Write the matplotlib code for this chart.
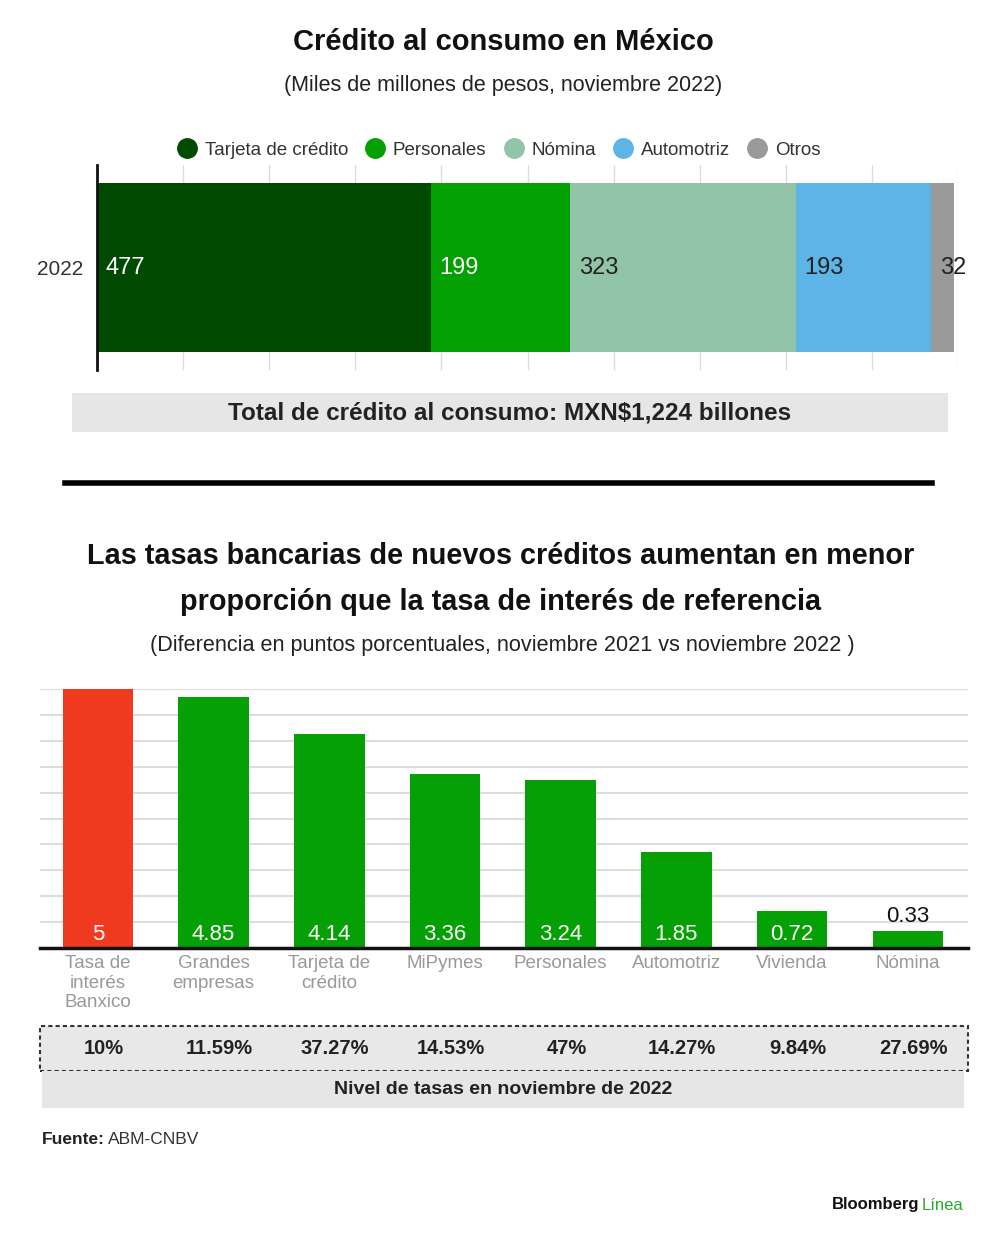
import matplotlib
matplotlib.use('Agg')
import matplotlib.pyplot as plt
from matplotlib.patches import Rectangle
from matplotlib.lines import Line2D
from matplotlib.transforms import blended_transform_factory
import numpy as np

plt.rcParams['font.family'] = ['Liberation Sans', 'DejaVu Sans']

# data: top stacked bar
consumo_labels = ['Tarjeta de crédito', 'Personales', 'Nómina', 'Automotriz', 'Otros']
consumo_values = [477, 199, 323, 193, 32]
consumo_colors = ['#014a01', '#02a002', '#92c5a7', '#5cb5e6', '#9a9a9a']
consumo_text_colors = ['white', 'white', '#222222', '#222222', '#222222']
year_label = '2022'

# data: bottom bar chart
tasas_cats = ['Tasa de\ninterés\nBanxico', 'Grandes\nempresas', 'Tarjeta de\ncrédito', 'MiPymes',
              'Personales', 'Automotriz', 'Vivienda', 'Nómina']
tasas_diff = [5, 4.85, 4.14, 3.36, 3.24, 1.85, 0.72, 0.33]
tasas_diff_labels = ['5', '4.85', '4.14', '3.36', '3.24', '1.85', '0.72', '0.33']
tasas_nivel = ['10%', '11.59%', '37.27%', '14.53%', '47%', '14.27%', '9.84%', '27.69%']
tasas_colors = ['#f03a1f'] + ['#05a005'] * 7

W, H = 1000, 1244


def fx(x):
    return x / W


def fy(y):
    return 1 - y / H


def px_rect(left, top, right, bottom):
    return [fx(left), fy(bottom), (right - left) / W, (bottom - top) / H]


fig = plt.figure(figsize=(W / 100, H / 100), dpi=100, facecolor='white')

# titles top
fig.text(0.503, fy(42), 'Crédito al consumo en México', ha='center', va='center',
         fontsize=21, fontweight='bold', color='#111111')
fig.text(0.503, fy(86), '(Miles de millones de pesos, noviembre 2022)', ha='center', va='center',
         fontsize=15.5, color='#222222')

# stacked bar
ax1 = fig.add_axes(px_rect(97, 165, 958, 370))
left = 0
for val, col, tcol in zip(consumo_values, consumo_colors, consumo_text_colors):
    ax1.barh(0, val, left=left, height=1.0, color=col, zorder=2)
    ax1.text(left + 12, 0, str(val), ha='left', va='center', fontsize=17, color=tcol, zorder=3)
    left += val
ax1.set_xlim(0, 1230)
ax1.set_ylim(-0.61, 0.61)
ax1.set_xticks(np.arange(0, 1231, 123))
ax1.grid(axis='x', color='#dddddd', lw=1, zorder=0)
ax1.tick_params(length=0, labelbottom=False)
ax1.set_yticks([0])
ax1.set_yticklabels([year_label], fontsize=15, color='#333333')
ax1.tick_params(axis='y', pad=10)
for s in ['top', 'right', 'bottom']:
    ax1.spines[s].set_visible(False)
ax1.spines['left'].set_linewidth(2)
ax1.spines['left'].set_color('#111111')

handles = [Line2D([], [], marker='o', ls='', markersize=14, markerfacecolor=c, markeredgecolor=c)
           for c in consumo_colors]
fig.legend(handles, consumo_labels, loc='center', bbox_to_anchor=(0.499, fy(150)), ncol=5,
           frameon=False, fontsize=13.5, handlelength=1.0, handletextpad=0.45,
           columnspacing=0.95, labelcolor='#333333')

# total box
fig.patches.append(Rectangle((fx(72), fy(432)), (948 - 72) / W, (432 - 393) / H,
                             transform=fig.transFigure, facecolor='#e6e6e6', edgecolor='none'))
fig.text(fx(510), fy(413), 'Total de crédito al consumo: MXN$1,224 billones', ha='center', va='center',
         fontsize=17.5, fontweight='bold', color='#222222')

# separator
fig.add_artist(Line2D([fx(65), fx(932)], [fy(483), fy(483)], color='black', lw=4,
                      transform=fig.transFigure))

# titles bottom
fig.text(0.501, fy(556), 'Las tasas bancarias de nuevos créditos aumentan en menor', ha='center',
         va='center', fontsize=20.8, fontweight='bold', color='#111111')
fig.text(0.501, fy(602), 'proporción que la tasa de interés de referencia', ha='center',
         va='center', fontsize=20.8, fontweight='bold', color='#111111')
fig.text(0.502, fy(646), '(Diferencia en puntos porcentuales, noviembre 2021 vs noviembre 2022 )',
         ha='center', va='center', fontsize=15.6, color='#222222')

# bar chart
ax2 = fig.add_axes(px_rect(40, 689, 968, 948))
x = np.arange(len(tasas_diff))
ax2.bar(x, tasas_diff, width=0.61, color=tasas_colors, zorder=2)
for i, (v, lab) in enumerate(zip(tasas_diff, tasas_diff_labels)):
    if v < 0.5:
        ax2.text(i, v + 0.08, lab, ha='center', va='bottom', fontsize=16, color='#111111', zorder=3)
    else:
        ax2.text(i, 0.06, lab, ha='center', va='bottom', fontsize=16, color='white', zorder=3)
ax2.set_xlim(-0.5, 7.52)
ax2.set_ylim(0, 5)
ax2.set_yticks(np.arange(0, 5.01, 0.5))
ax2.grid(axis='y', color='#dddddd', lw=1.5, zorder=0)
ax2.tick_params(length=0, labelleft=False)
ax2.set_xticks(x)
ax2.set_xticklabels(tasas_cats, fontsize=13.5, color='#999999', linespacing=1.2)
ax2.tick_params(axis='x', pad=5)
for s in ['top', 'right', 'left']:
    ax2.spines[s].set_visible(False)
ax2.spines['bottom'].set_linewidth(2.5)
ax2.spines['bottom'].set_color('#111111')
ax2.set_axisbelow(True)

# nivel de tasas box
fig.patches.append(Rectangle((fx(40), fy(1071)), (968 - 40) / W, (1071 - 1026) / H,
                             transform=fig.transFigure, facecolor='#e8e8e8', edgecolor='#333333',
                             lw=1.5, ls=(0, (2, 1.5))))
fig.patches.append(Rectangle((fx(42), fy(1108)), (964 - 42) / W, (1108 - 1071) / H,
                             transform=fig.transFigure, facecolor='#e6e6e6', edgecolor='none'))
trans = blended_transform_factory(ax2.transData, fig.transFigure)
for i, lab in enumerate(tasas_nivel):
    fig.text(i + 0.05, fy(1048), lab, transform=trans, ha='center', va='center', fontsize=14.5,
             fontweight='bold', color='#222222')
fig.text(fx(503), fy(1090), 'Nivel de tasas en noviembre de 2022', ha='center', va='center',
         fontsize=14, fontweight='bold', color='#222222')

# source and brand
t = fig.text(fx(42), fy(1140), 'Fuente:', ha='left', va='center', fontsize=12.5,
             fontweight='bold', color='#222222')
fig.canvas.draw()
bb = t.get_window_extent()
fig.text(bb.x1 / W + 0.003, fy(1140), 'ABM-CNBV', ha='left', va='center', fontsize=12.5, color='#333333')

fig.text(fx(919), fy(1205), 'Bloomberg', ha='right', va='center', fontsize=12,
         fontweight='bold', color='#111111')
fig.text(fx(922), fy(1205), 'Línea', ha='left', va='center', fontsize=12, color='#2ca82c')

fig.savefig('out.png', dpi=100, facecolor='white')
